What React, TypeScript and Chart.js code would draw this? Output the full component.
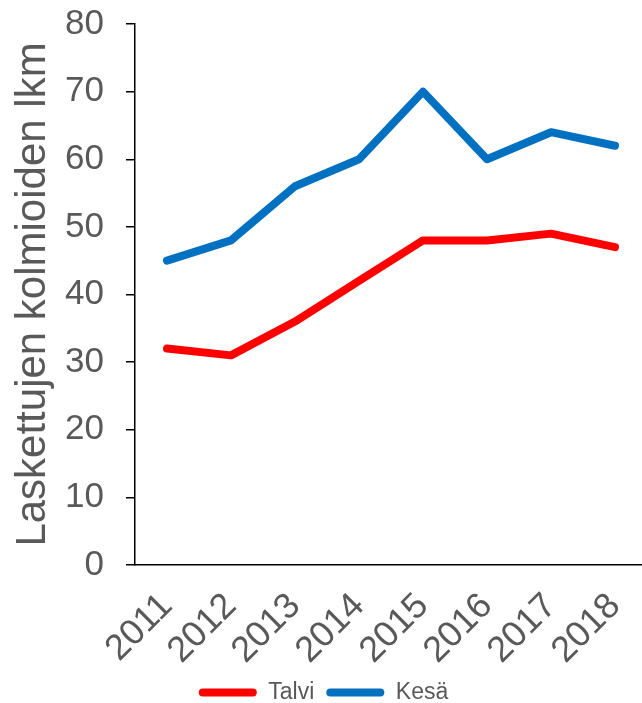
import { useEffect, useRef } from "react";
import { Chart, registerables } from "chart.js";

Chart.register(...registerables);

const years = ["2011", "2012", "2013", "2014", "2015", "2016", "2017", "2018"];
const talvi = [32, 31, 36, 42, 48, 48, 49, 47];
const kesa = [45, 48, 56, 60, 70, 60, 64, 62];
const yMin = 0;
const yMax = 80;
const yStep = 10;
const yTitle = "Laskettujen kolmioiden lkm";

const FONT = "'Liberation Sans', Arial, sans-serif";
const GREY = "#595959";

export default function App() {
  const ref = useRef<HTMLCanvasElement>(null);

  useEffect(() => {
    if (!ref.current) return;
    const chart = new Chart(ref.current, {
      type: "line",
      data: {
        labels: years,
        datasets: [
          {
            label: "Talvi",
            data: talvi,
            borderColor: "#FF0000",
            backgroundColor: "#FF0000",
            borderWidth: 8,
            pointRadius: 0,
            borderCapStyle: "round",
            borderJoinStyle: "round",
            tension: 0,
          },
          {
            label: "Kesä",
            data: kesa,
            borderColor: "#0070C0",
            backgroundColor: "#0070C0",
            borderWidth: 8,
            pointRadius: 0,
            borderCapStyle: "round",
            borderJoinStyle: "round",
            tension: 0,
          },
        ],
      },
      options: {
        responsive: false,
        animation: false,
        layout: { padding: { top: 24, left: 0, right: 0, bottom: -11 } },
        plugins: {
          tooltip: { enabled: false },
          legend: {
            position: "bottom",
            labels: {
              font: { family: FONT, size: 23 },
              color: GREY,
              boxWidth: 58,
              boxHeight: 8,
              padding: 12,
              useBorderRadius: true,
              borderRadius: 4,
              generateLabels: (c: any) =>
                c.data.datasets.map((ds: any, i: number) => ({
                  text: ds.label,
                  fillStyle: ds.borderColor,
                  strokeStyle: ds.borderColor,
                  lineWidth: 0,
                  hidden: false,
                  datasetIndex: i,
                  borderRadius: 4,
                  fontColor: GREY,
                })),
            },
          },
        },
        scales: {
          x: {
            offset: true,
            grid: { display: false, drawTicks: false },
            border: { display: true, color: "#000", width: 1.5 },
            ticks: {
              font: { family: FONT, size: 36 },
              color: GREY,
              maxRotation: 45,
              minRotation: 45,
              padding: 20,
              autoSkip: false,
            },
            afterFit: (s: any) => {
              s.height = 104;
              s.paddingLeft = 0;
              s.paddingRight = 0;
            },
          },
          y: {
            min: yMin,
            max: yMax,
            grid: {
              display: true,
              drawOnChartArea: false,
              drawTicks: true,
              tickLength: 9,
              color: "#000",
              lineWidth: 1.5,
            },
            border: { display: true, color: "#000", width: 1.5 },
            ticks: {
              stepSize: yStep,
              font: { family: FONT, size: 35 },
              color: GREY,
              padding: 22,
            },
            title: {
              display: true,
              text: yTitle,
              font: { family: FONT, size: 42 },
              color: GREY,
              padding: { top: 8, bottom: 0 },
            },
            afterFit: (s: any) => {
              s.width = 135;
              s.paddingTop = 0;
              s.paddingBottom = 0;
            },
          },
        },
      },
    });
    return () => chart.destroy();
  }, []);

  return (
    <div
      style={{
        position: "absolute",
        left: 0,
        top: 0,
        width: 642,
        height: 703,
        overflow: "hidden",
        background: "#fff",
      }}
    >
      <canvas ref={ref} width={647} height={703} style={{ display: "block" }} />
    </div>
  );
}
